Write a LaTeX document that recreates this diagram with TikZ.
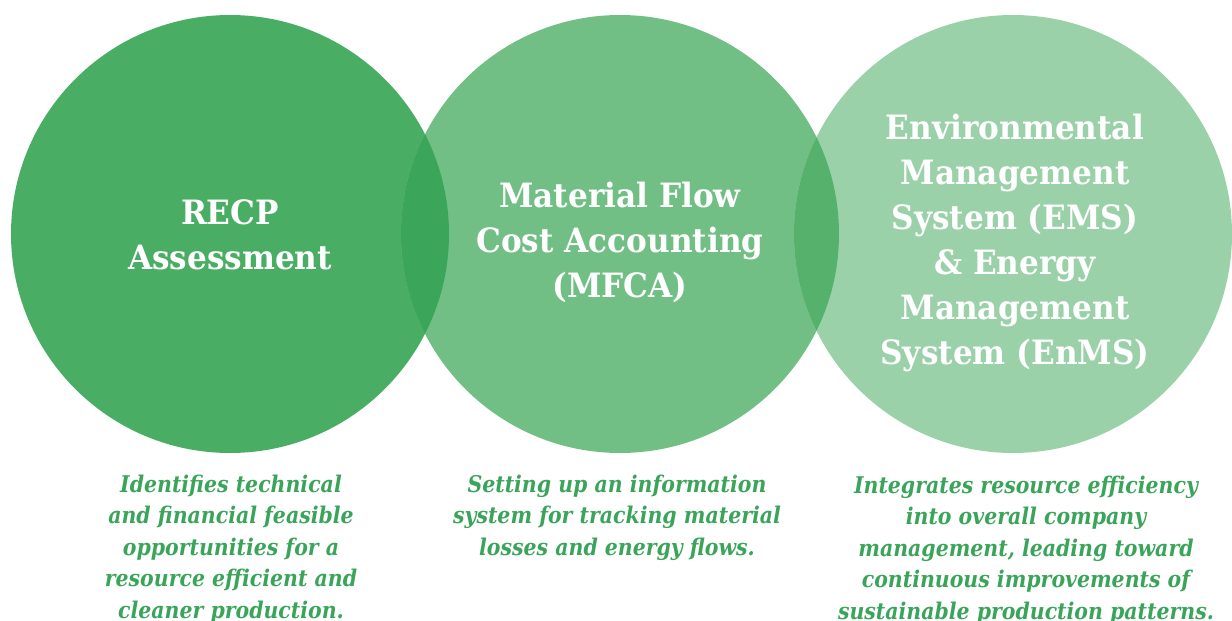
\documentclass[tikz,border=0pt]{standalone}
\usepackage{fontspec}
\newfontfamily\headfont[FakeStretch=0.93]{DejaVu Serif}
\newfontfamily\bodyfont[FakeStretch=0.89]{DejaVu Serif}
\definecolor{cA}{HTML}{49AE64}
\definecolor{cB}{HTML}{72BF86}
\definecolor{cC}{HTML}{9BD1A9}
\definecolor{cAB}{HTML}{3BA65A}
\definecolor{cBC}{HTML}{56B16D}
\definecolor{txt}{HTML}{3AA55A}
\tikzset{
  blob/.style={circle, minimum size=438pt, inner sep=0pt, draw=none},
  head/.style={text=white, align=center, font=\headfont\bfseries\fontsize{33.5}{45}\selectfont},
  desc/.style={text=txt, align=center, font=\bodyfont\bfseries\itshape\fontsize{23}{31.5}\selectfont}
}
\begin{document}
\begin{tikzpicture}[x=1pt,y=-1pt]
\useasboundingbox (0,0) rectangle (1232,621);
\clip (0,0) rectangle (1232,621);
\node[blob, fill=cA] (c1) at (230,234) {};
\node[blob, fill=cB] (c2) at (620,234) {};
\node[blob, fill=cC] (c3) at (1013,234) {};
\begin{scope}
  \clip (230,234) circle (219);
  \fill[cAB] (620,234) circle (219);
\end{scope}
\begin{scope}
  \clip (620,234) circle (219);
  \fill[cBC] (1013,234) circle (219);
\end{scope}
\node[head] (t1) at (230,235) {RECP\\Assessment};
\node[head] (t2) at (620,242) {Material Flow\\Cost Accounting\\(MFCA)};
\node[head] (t3) at (1015,243) {Environmental\\Management\\System (EMS)\\\& Energy\\Management\\System (EnMS)};
\node[desc, anchor=north] (d1) at (231,471) {Identifies technical\\and financial feasible\\opportunities for a\\resource efficient and\\cleaner production.};
\node[desc, anchor=north] (d2) at (617,471) {Setting up an information\\system for tracking material\\losses and energy flows.};
\node[desc, anchor=north] (d3) at (1026,472) {Integrates resource efficiency\\into overall company\\management, leading toward\\continuous improvements of\\sustainable production patterns.};
\end{tikzpicture}
\end{document}
